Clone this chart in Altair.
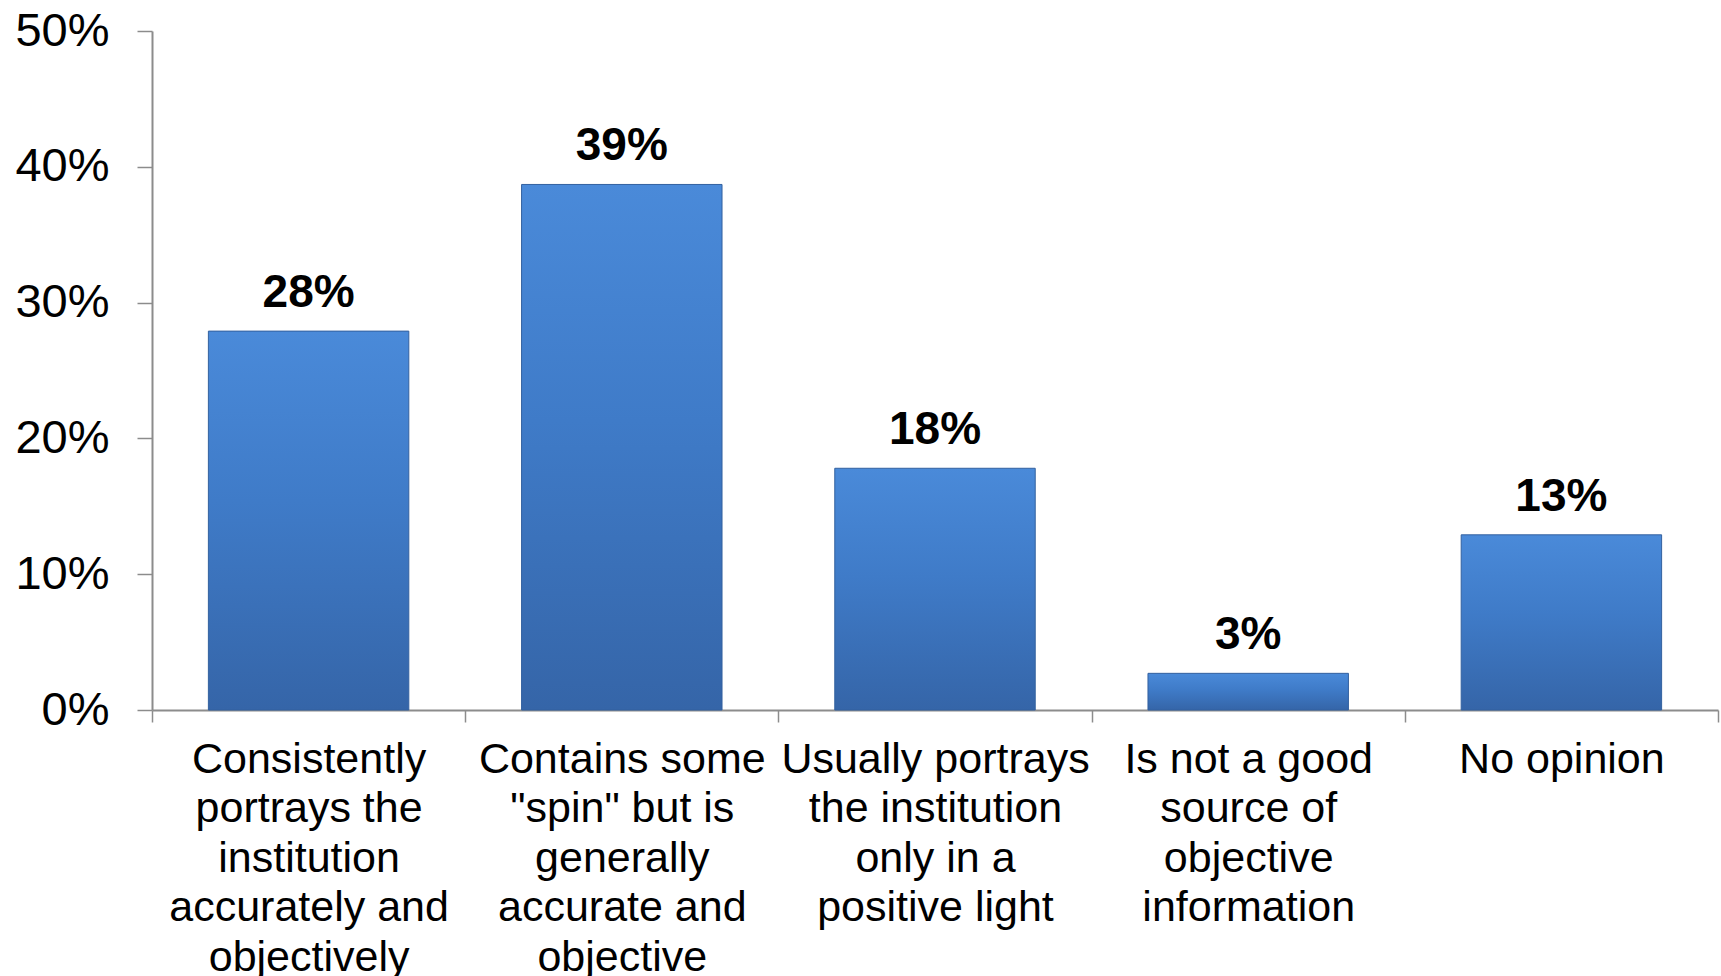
import altair as alt
import pandas as pd

categories = [
    "Consistently|portrays the|institution|accurately and|objectively",
    "Contains some|\"spin\" but is|generally|accurate and|objective",
    "Usually portrays|the institution|only in a|positive light",
    "Is not a good|source of|objective|information",
    "No opinion",
]
values = [27.9, 38.7, 17.8, 2.7, 12.9]
value_labels = ["28%", "39%", "18%", "3%", "13%"]
y_ticks = [0, 10, 20, 30, 40, 50]

df = pd.DataFrame({"cat": categories, "val": values, "lab": value_labels})

FONT = "Liberation Sans"

x_enc = alt.X(
    "cat:N",
    sort=categories,
    title=None,
    scale=alt.Scale(paddingInner=0, paddingOuter=0),
    axis=alt.Axis(
        labelAngle=0,
        labelExpr="split(datum.label, '|')",
        labelFont=FONT,
        labelFontSize=43,
        labelLineHeight=49.5,
        labelColor="black",
        labelPadding=16,
        labelBaseline="top",
        labelLimit=400,
        tickBand="extent",
        tickSize=12,
        tickColor="#8c8c8c",
        domainColor="#8c8c8c",
        domainWidth=2,
        tickWidth=1.5,
        grid=False,
    ),
)

y_enc = alt.Y(
    "val:Q",
    title=None,
    scale=alt.Scale(domain=[0, 50]),
    axis=alt.Axis(
        values=y_ticks,
        labelExpr="datum.value + '%'",
        labelFont=FONT,
        labelFontSize=47,
        labelColor="black",
        labelPadding=28,
        tickSize=15,
        tickColor="#8c8c8c",
        domainColor="#8c8c8c",
        domainWidth=2,
        tickWidth=1.5,
        grid=False,
    ),
)

bars = alt.Chart(df).mark_bar(
    width=alt.RelativeBandSize(0.64),
    color=alt.Gradient(
        gradient="linear",
        stops=[
            alt.GradientStop(color="#4a8ad9", offset=0),
            alt.GradientStop(color="#3f7bc8", offset=0.45),
            alt.GradientStop(color="#3565a8", offset=1),
        ],
        x1=0, x2=0, y1=0, y2=1,
    ),
    stroke="#33619f",
    strokeWidth=1,
).encode(x=x_enc, y=y_enc)

labels = alt.Chart(df).mark_text(
    font=FONT,
    fontSize=46,
    fontWeight="bold",
    color="black",
    baseline="alphabetic",
    dy=-24,
).encode(
    x=alt.X("cat:N", sort=categories),
    y="val:Q",
    text="lab:N",
)

chart = (
    alt.layer(bars, labels)
    .properties(
        width=1566,
        height=679,
        padding={"left": 152, "top": 31, "right": 3, "bottom": 266},
        autosize=alt.AutoSizeParams(type="none"),
        background="white",
    )
    .configure_view(stroke=None)
)

chart.save("out.html", embed_options={"renderer": "svg", "actions": False})
